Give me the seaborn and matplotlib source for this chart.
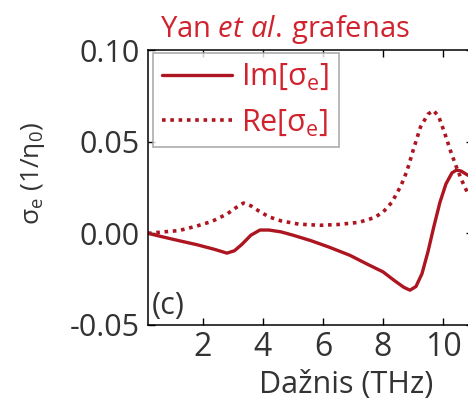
import matplotlib
matplotlib.use("Agg")
import matplotlib.pyplot as plt
import seaborn as sns
import pandas as pd

# ---- data ----
im_x = [0.17, 0.6, 1.2, 1.8, 2.4, 2.8, 3.05, 3.3, 3.6, 3.9, 4.2, 4.6, 5.0, 5.6,
        6.2, 6.9, 7.5, 8.0, 8.4, 8.7, 8.9, 9.1, 9.3, 9.5, 9.7, 9.9, 10.1, 10.3,
        10.45, 10.6, 10.8, 11.0]
im_y = [0.000, -0.0017, -0.0040, -0.0062, -0.0088, -0.0108, -0.0095, -0.0060,
        -0.0010, 0.0018, 0.0018, 0.0008, -0.0010, -0.0040, -0.0075, -0.0120,
        -0.0170, -0.0210, -0.0260, -0.0295, -0.0310, -0.0290, -0.0220, -0.0100,
        0.0040, 0.0170, 0.0270, 0.0330, 0.0345, 0.0340, 0.0320, 0.0300]
re_x = [0.17, 0.7, 1.2, 1.8, 2.3, 2.8, 3.1, 3.35, 3.6, 3.85, 4.2, 4.6, 5.2, 5.9,
        6.5, 7.2, 7.7, 8.0, 8.3, 8.6, 8.8, 9.0, 9.25, 9.5, 9.68, 9.85, 10.05,
        10.25, 10.45, 10.65, 10.85, 11.0]
re_y = [0.000, 0.0008, 0.0015, 0.0040, 0.0065, 0.0105, 0.0140, 0.0165, 0.0150,
        0.0123, 0.0090, 0.0068, 0.0050, 0.0044, 0.0048, 0.0060, 0.0085, 0.0115,
        0.0170, 0.0260, 0.0340, 0.0450, 0.0580, 0.0650, 0.0670, 0.0640, 0.0550,
        0.0450, 0.0360, 0.0280, 0.0210, 0.0170]
x_ticks = [2, 4, 6, 8, 10]
y_ticks = [-0.05, 0.00, 0.05, 0.10]
y_tick_labels = ["-0.05", "0.00", "0.05", "0.10"]
series_labels = ["Im[σ$_{\\mathrm{e}}$]", "Re[σ$_{\\mathrm{e}}$]"]

sns.set_style("ticks")
plt.rcParams["font.family"] = ["Open Sans", "DejaVu Sans"]
plt.rcParams["mathtext.fontset"] = "custom"
plt.rcParams["mathtext.rm"] = "Open Sans"
plt.rcParams["mathtext.it"] = "Open Sans:italic"
plt.rcParams["mathtext.bf"] = "Open Sans:bold"

LINE = "#ad1520"
RED = "#d0232e"
GREY = "#333333"

fig = plt.figure(figsize=(4.68, 4.03), dpi=100)
ax = fig.add_axes([148 / 468, 78 / 403, 325 / 468, 275 / 403])

df_im = pd.DataFrame({"x": im_x, "y": im_y})
df_re = pd.DataFrame({"x": re_x, "y": re_y})
sns.lineplot(data=df_im, x="x", y="y", ax=ax, color=LINE, lw=2.4,
             label=series_labels[0], sort=False)
sns.lineplot(data=df_re, x="x", y="y", ax=ax, color=LINE, lw=2.6,
             label=series_labels[1], sort=False)
ax.lines[1].set_dashes([1, 1.3])

ax.set_xlim(0.17, 11.0)
ax.set_ylim(-0.05, 0.10)
ax.set_xticks(x_ticks)
ax.set_xticklabels([str(t) for t in x_ticks])
ax.set_yticks(y_ticks)
ax.set_yticklabels(y_tick_labels)
ax.tick_params(axis="both", direction="in", length=5, width=1.0,
               top=True, right=True, colors="black", labelcolor=GREY)
ax.tick_params(axis="y", labelsize=22, pad=6)
ax.tick_params(axis="x", labelsize=23, pad=4)
for s in ax.spines.values():
    s.set_linewidth(1.1)
    s.set_color("black")
    s.set_visible(True)

ax.set_xlabel("Dažnis (THz)", fontsize=22, color=GREY)
ax.xaxis.set_label_coords((346 - 148) / 325, -0.165)
ax.set_ylabel("σ$_{\\mathrm{e}}$ (1/η$_{0}$)", fontsize=19, color=GREY)
ax.yaxis.set_label_coords(-0.31, 0.55)

leg = ax.legend(loc="upper left", bbox_to_anchor=(0.015, 0.989),
                borderaxespad=0, fontsize=22, frameon=True, fancybox=False,
                handlelength=2.3, handletextpad=0.3, labelspacing=0.5,
                borderpad=0.3)
leg.get_frame().set_edgecolor("#a0a0a0")
leg.get_frame().set_linewidth(1.3)
for t in leg.get_texts():
    t.set_color(RED)

ax.text(0.012, 0.015, "(c)", transform=ax.transAxes, fontsize=22,
        color=GREY, ha="left", va="bottom")

fig.text(160 / 468, (403 - 37) / 403, "Yan $\\mathit{et\\ al.}\\,$grafenas",
         fontsize=21, color=RED, ha="left", va="baseline")

fig.savefig("out.png", dpi=100)
